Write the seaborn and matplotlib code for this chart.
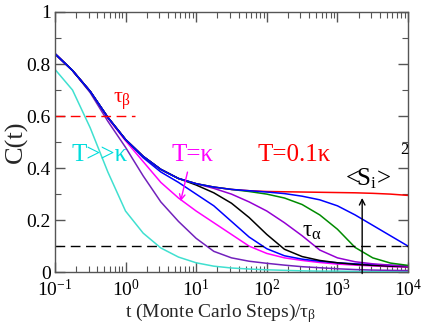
"""Correlation C(t) vs t for several temperatures (seaborn recreation)."""

import numpy as np
import pandas as pd
import seaborn as sns
import matplotlib.pyplot as plt
from matplotlib.ticker import LogLocator, MultipleLocator, NullFormatter

# ---------------------------------------------------------------------------
# Data, log10(t) grid in quarter decades
# ---------------------------------------------------------------------------
LOG_T = [-1.0, -0.75, -0.5, -0.25, 0.0, 0.25, 0.5, 0.75, 1.0, 1.25, 1.5,
         1.75, 2.0, 2.25, 2.5, 2.75, 3.0, 3.25, 3.5, 3.75, 4.0]

cyan = [0.78, 0.70, 0.555, 0.385, 0.235, 0.15, 0.093, 0.058, 0.036, 0.023, 0.016,
        0.012, 0.009, 0.007, 0.005, 0.004, 0.004, 0.003, 0.003, 0.002, 0.002]
indigo = [0.84, 0.775, 0.69, 0.58, 0.48, 0.37, 0.27, 0.195, 0.13, 0.08, 0.055,
          0.042, 0.034, 0.027, 0.021, 0.017, 0.013, 0.010, 0.008, 0.007, 0.006]
magenta = [0.84, 0.775, 0.695, 0.592, 0.505, 0.425, 0.345, 0.285, 0.235, 0.19, 0.145,
           0.10, 0.072, 0.055, 0.045, 0.037, 0.031, 0.027, 0.024, 0.021, 0.019]
blue_a = [0.84, 0.775, 0.695, 0.595, 0.51, 0.44, 0.385, 0.345, 0.30, 0.255, 0.195,
          0.135, 0.09, 0.063, 0.05, 0.042, 0.036, 0.032, 0.029, 0.026, 0.024]
black = [0.84, 0.775, 0.695, 0.595, 0.51, 0.445, 0.395, 0.36, 0.335, 0.305, 0.265,
         0.21, 0.145, 0.088, 0.06, 0.045, 0.036, 0.030, 0.026, 0.023, 0.021]
violet = [0.84, 0.775, 0.695, 0.595, 0.51, 0.445, 0.395, 0.36, 0.34, 0.322, 0.30,
          0.27, 0.235, 0.19, 0.14, 0.085, 0.055, 0.04, 0.032, 0.027, 0.023]
green = [0.84, 0.775, 0.695, 0.595, 0.51, 0.445, 0.395, 0.36, 0.34, 0.327, 0.318,
         0.31, 0.30, 0.285, 0.26, 0.22, 0.165, 0.095, 0.055, 0.035, 0.026]
blue_b = [0.84, 0.775, 0.695, 0.595, 0.51, 0.445, 0.395, 0.36, 0.34, 0.327, 0.318,
          0.313, 0.308, 0.302, 0.292, 0.278, 0.255, 0.22, 0.18, 0.14, 0.10]
red = [0.84, 0.775, 0.695, 0.595, 0.51, 0.445, 0.395, 0.36, 0.34, 0.327, 0.318,
       0.313, 0.31, 0.309, 0.308, 0.307, 0.306, 0.305, 0.303, 0.30, 0.295]

SERIES = {
    "red": red, "cyan": cyan, "indigo": indigo, "magenta": magenta,
    "blue_a": blue_a, "black": black, "violet": violet, "green": green,
    "blue_b": blue_b,
}
COLORS = {
    "red": "#ff0000", "cyan": "#40e0d0", "indigo": "#7221bc", "magenta": "#ff00ff",
    "blue_a": "#0000ff", "black": "#000000", "violet": "#9400d3", "green": "#008b00",
    "blue_b": "#0000ff",
}

TAU_BETA_LEVEL = 0.6
TAU_ALPHA_LEVEL = 0.1

# ---------------------------------------------------------------------------
# Build frame
# ---------------------------------------------------------------------------
t_vals = [10 ** v for v in LOG_T]
frames = [pd.DataFrame({"t": t_vals, "C": vals, "curve": name}) for name, vals in SERIES.items()]
df = pd.concat(frames, ignore_index=True)

sns.set_style("ticks")
plt.rcParams["font.family"] = ["Liberation Serif", "DejaVu Serif"]
plt.rcParams["mathtext.fontset"] = "custom"
plt.rcParams["mathtext.rm"] = "Liberation Serif"
plt.rcParams["mathtext.it"] = "Liberation Serif"
plt.rcParams["mathtext.bf"] = "Liberation Serif:bold"

fig = plt.figure(figsize=(4.22, 3.24), dpi=100)
ax = fig.add_axes([0.130, 0.160, 0.837, 0.803])
ax.set_xscale("log")

sns.lineplot(data=df, x="t", y="C", hue="curve", hue_order=list(SERIES),
             palette=COLORS, estimator=None, legend=False, linewidth=1.1, ax=ax)

# reference lines
ax.plot([0.1, 1.36], [TAU_BETA_LEVEL] * 2, color="#ff0000", lw=1.0, dashes=(7, 4))
ax.axhline(TAU_ALPHA_LEVEL, color="black", lw=1.0, dashes=(7, 4))

# annotations
ax.text(0.89, 0.655, r"$\tau_\beta$", color="#ff0000", fontsize=16, ha="center", va="center")
ax.text(0.43, 0.45, "T>>κ", color="#00dcdc", fontsize=18, ha="center", va="center")
ax.text(9.0, 0.45, "T=κ", color="#ff00ff", fontsize=18, ha="center", va="center")
ax.annotate("", xy=(5.9, 0.262), xytext=(7.7, 0.395),
            arrowprops=dict(arrowstyle="->", color="#ff00ff", lw=1.0))
ax.text(243, 0.45, "T=0.1κ", color="#ff0000", fontsize=18, ha="center", va="center")
ax.text(430, 0.155, r"$\tau_\alpha$", color="black", fontsize=17, ha="center", va="center")
ax.text(2700, 0.36, r"<S$_{\rm i}$>", color="black", fontsize=18, ha="center", va="center")
ax.text(9000, 0.47, "2", color="black", fontsize=12, ha="center", va="center")
ax.annotate("", xy=(2240, 0.296), xytext=(2240, -0.016),
            arrowprops=dict(arrowstyle="->", color="black", lw=1.0),
            annotation_clip=False)

# axes formatting
ax.set_xlim(0.1, 1e4)
ax.set_ylim(0, 1)
ax.xaxis.set_major_locator(LogLocator(base=10, numticks=10))
ax.xaxis.set_minor_locator(LogLocator(base=10, subs=np.arange(2, 10), numticks=20))
ax.xaxis.set_minor_formatter(NullFormatter())
ax.yaxis.set_major_locator(MultipleLocator(0.2))
ax.yaxis.set_minor_locator(MultipleLocator(0.1))
ax.set_yticks([0, 0.2, 0.4, 0.6, 0.8, 1.0])
ax.set_yticklabels(["0", "0.2", "0.4", "0.6", "0.8", "1"])
ax.tick_params(which="both", direction="in", top=True, right=True, colors="#555555",
               labelcolor="black", labelsize=14)
ax.tick_params(axis="x", which="major", pad=5)
ax.tick_params(axis="y", which="major", pad=3)
ax.tick_params(which="major", length=7, width=1.0)
ax.tick_params(which="minor", length=4, width=0.8)
for sp in ax.spines.values():
    sp.set_color("#555555")
    sp.set_linewidth(1.0)

ax.set_xlabel(r"t (Monte Carlo Steps)/$\tau_\beta$", fontsize=14)
ax.xaxis.set_label_coords(0.47, -0.11)
ax.set_ylabel("C(t)", fontsize=19)
ax.yaxis.set_label_coords(-0.075, 0.5)

fig.savefig("out.png", dpi=100)
